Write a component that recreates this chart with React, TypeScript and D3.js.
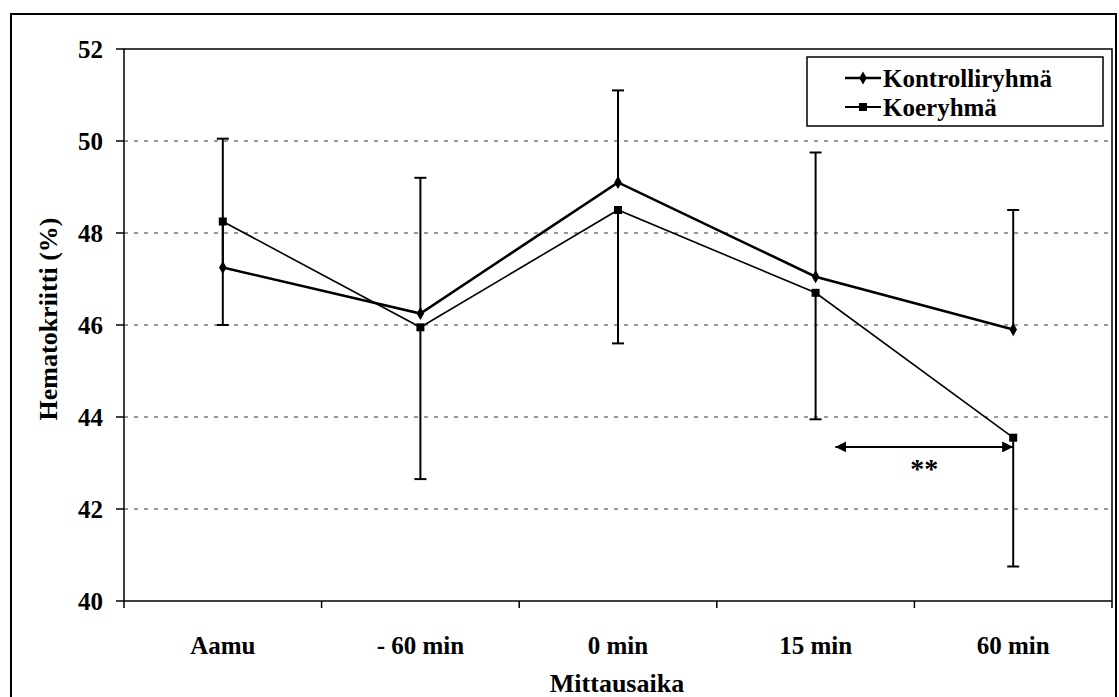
import React from 'react';
import * as d3 from 'd3';

const categories = ['Aamu', '- 60 min', '0 min', '15 min', '60 min'];
const kontrolli = [47.25, 46.25, 49.1, 47.05, 45.9];
const koe = [48.25, 45.95, 48.5, 46.7, 43.55];
// kontrolliryhmä has its error bars upwards, koeryhmä downwards
const kontrolliUpper = [50.05, 49.2, 51.1, 49.75, 48.5];
const koeLower = [46.0, 42.65, 45.6, 43.95, 40.75];
const yTicks = [40, 42, 44, 46, 48, 50, 52];
const gridTicks = [42, 44, 46, 48, 50];
const seriesNames = ['Kontrolliryhmä', 'Koeryhmä'];
const sigFrom = 3.6;
const sigTo = 4;
const sigLabel = '**';

const W = 1119;
const H = 697;
const plot = {left: 124, right: 1112, top: 49, bottom: 601};
const font = '"Liberation Serif", "Times New Roman", serif';

const App = () => {
    const x = d3.scaleBand()
        .domain(categories)
        .range([plot.left, plot.right]);
    const y = d3.scaleLinear()
        .domain([40, 52])
        .range([plot.bottom, plot.top]);
    const cx = (i) => x(categories[i]) + x.bandwidth() / 2;
    const line = d3.line()
        .x((d, i) => cx(i))
        .y(d => y(d));
    const diamond = d3.symbol().type(d3.symbolDiamond).size(50)();
    const square = d3.symbol().type(d3.symbolSquare).size(64)();
    const cap = 6;

    const sigY = y(43.35);
    const sigX1 = plot.left + x.step() * sigFrom;
    const sigX2 = cx(sigTo);

    return (
        <div style={{position: 'absolute', left: 0, top: 0}}>
            <svg width={W} height={H} style={{display: 'block', background: '#fff'}}>
                <defs>
                    <marker id="arr" viewBox="0 0 10 10" refX="10" refY="5" markerWidth="5.5" markerHeight="5.5" orient="auto-start-reverse">
                        <path d="M0,0 L10,5 L0,10 z" fill="#000"/>
                    </marker>
                </defs>
                {/* outer frame */}
                <rect x={11} y={14} width={1105} height={H + 10} fill="none" stroke="#000" strokeWidth={2}/>

                {/* grid */}
                {gridTicks.map(t => (
                    <line key={t} x1={plot.left} x2={plot.right} y1={y(t)} y2={y(t)}
                          stroke="#333" strokeWidth={1} strokeDasharray="4,6"/>
                ))}
                <rect x={plot.left} y={plot.top} width={plot.right - plot.left} height={plot.bottom - plot.top}
                      fill="none" stroke="#000" strokeWidth={1.5}/>

                {/* y axis */}
                {yTicks.map(t => (
                    <g key={t}>
                        <line x1={plot.left - 8} x2={plot.left} y1={y(t)} y2={y(t)} stroke="#000" strokeWidth={1.5}/>
                        <text x={103} y={y(t)} dy="0.35em" textAnchor="end" fontFamily={font} fontWeight="bold" fontSize={25}>{t}</text>
                    </g>
                ))}
                <text transform={`translate(57, ${(215 + 423) / 2}) rotate(-90)`} textAnchor="middle"
                      fontFamily={font} fontWeight="bold" fontSize={26}>Hematokriitti (%)</text>

                {/* x axis */}
                {d3.range(categories.length + 1).map(i => (
                    <line key={i} x1={plot.left + i * x.step()} x2={plot.left + i * x.step()} y1={plot.bottom} y2={plot.bottom + 7}
                          stroke="#000" strokeWidth={1.5}/>
                ))}
                {categories.map((c, i) => (
                    <text key={c} x={cx(i)} y={654} textAnchor="middle" fontFamily={font} fontWeight="bold" fontSize={25}>{c}</text>
                ))}
                <text x={617} y={692} textAnchor="middle" fontFamily={font} fontWeight="bold" fontSize={26}>Mittausaika</text>

                {/* error bars */}
                {categories.map((c, i) => (
                    <g key={c} stroke="#000" strokeWidth={2}>
                        <line x1={cx(i)} x2={cx(i)} y1={y(kontrolli[i])} y2={y(kontrolliUpper[i])}/>
                        <line x1={cx(i) - cap} x2={cx(i) + cap} y1={y(kontrolliUpper[i])} y2={y(kontrolliUpper[i])}/>
                        <line x1={cx(i)} x2={cx(i)} y1={y(koe[i])} y2={y(koeLower[i])}/>
                        <line x1={cx(i) - cap} x2={cx(i) + cap} y1={y(koeLower[i])} y2={y(koeLower[i])}/>
                    </g>
                ))}

                {/* series */}
                <path d={line(kontrolli)} fill="none" stroke="#000" strokeWidth={2.6}/>
                <path d={line(koe)} fill="none" stroke="#000" strokeWidth={1.6}/>
                {kontrolli.map((v, i) => (
                    <path key={i} d={diamond} transform={`translate(${cx(i)},${y(v)})`} fill="#000"/>
                ))}
                {koe.map((v, i) => (
                    <path key={i} d={square} transform={`translate(${cx(i)},${y(v)})`} fill="#000"/>
                ))}

                {/* significance */}
                <line x1={sigX1} x2={sigX2} y1={sigY} y2={sigY} stroke="#000" strokeWidth={2}
                      markerStart="url(#arr)" markerEnd="url(#arr)"/>
                <text x={(sigX1 + sigX2) / 2} y={sigY + 31} textAnchor="middle" fontFamily={font} fontWeight="bold" fontSize={28}>{sigLabel}</text>

                {/* legend */}
                <rect x={807} y={57} width={296} height={69} fill="#fff" stroke="#000" strokeWidth={1.5}/>
                {seriesNames.map((s, i) => (
                    <g key={s} transform={`translate(845, ${78 + i * 29})`}>
                        <line x1={0} x2={36} y1={0} y2={0} stroke="#000" strokeWidth={i === 0 ? 2.6 : 2}/>
                        <path d={i === 0 ? diamond : square} transform="translate(18,0)" fill="#000"/>
                        <text x={38} y={0} dy="0.35em" fontFamily={font} fontWeight="bold" fontSize={25}>{s}</text>
                    </g>
                ))}
            </svg>
        </div>
    );
};

export default App;
